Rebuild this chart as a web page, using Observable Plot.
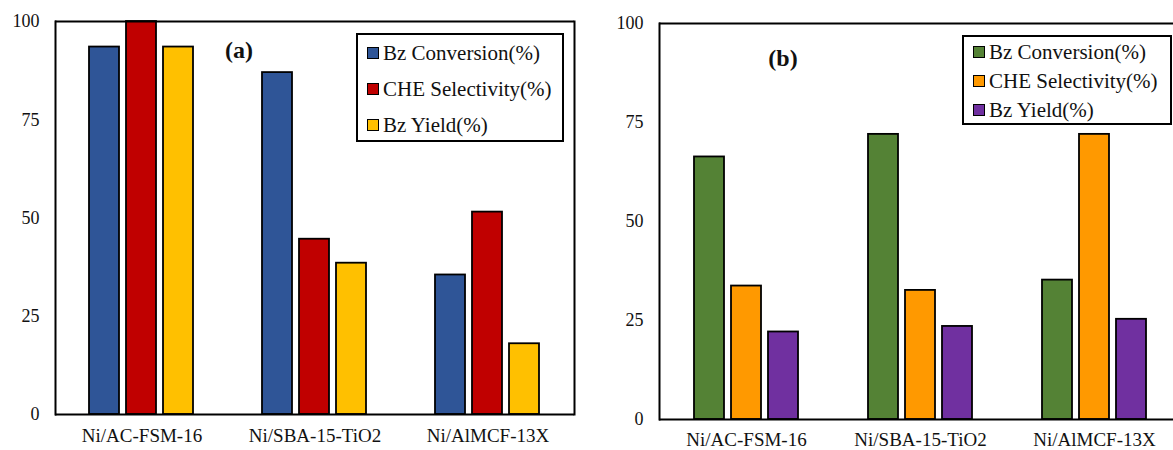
<!DOCTYPE html>
<html>
<head>
<meta charset="utf-8">
<script src="https://cdn.jsdelivr.net/npm/d3@7"></script>
<script src="https://cdn.jsdelivr.net/npm/@observablehq/plot@0.6"></script>
<style>
  html, body { margin: 0; padding: 0; background: #fff; overflow: hidden; width: 1173px; height: 450px; }
  #wrap { position: relative; width: 1173px; height: 450px; overflow: hidden; font-family: "Liberation Serif", "Times New Roman", serif; }
  .panel { position: absolute; top: 0; height: 450px; }
  .legend { position: absolute; border: 2px solid #000; background: #fff; box-sizing: border-box; font-family: "Liberation Serif", "Times New Roman", serif; font-size: 21px; color: #111; }
  .legend .row { position: absolute; display: flex; align-items: center; white-space: nowrap; }
  .legend .sw { width: 10px; height: 10px; border: 1.5px solid #000; margin-right: 4px; }
  .tag { position: absolute; font-family: "Liberation Serif", "Times New Roman", serif; font-weight: bold; font-size: 24px; color: #111; transform: translate(-50%, -50%); }
</style>
</head>
<body>
<div id="wrap">
  <div class="panel" id="pa" style="left:0;width:590px"></div>
  <div class="panel" id="pb" style="left:590px;width:600px"></div>
</div>
<script>
// ---- data ----
const catalysts = ["Ni/AC-FSM-16", "Ni/SBA-15-TiO2", "Ni/AlMCF-13X"];
const seriesNames = ["Bz Conversion(%)", "CHE Selectivity(%)", "Bz Yield(%)"];
const yTicks = [0, 25, 50, 75, 100];

// panel (a)
const aConversion = [93.5, 87.0, 35.5];
const aSelectivity = [100, 44.6, 51.5];
const aYield = [93.5, 38.5, 18.0];
const aColors = ["#2F5597", "#C00000", "#FFC000"];

// panel (b)
const bConversion = [66.3, 72.0, 35.2];
const bSelectivity = [33.7, 32.6, 72.0];
const bYield = [22.1, 23.5, 25.3];
const bColors = ["#548235", "#FF9900", "#7030A0"];

function toRows(...cols) {
  const rows = [];
  catalysts.forEach((c, i) => cols.forEach((col, k) => rows.push({catalyst: c, series: seriesNames[k], value: col[i]})));
  return rows;
}

function makePanel(rows, colors, o) {
  return Plot.plot({
    width: o.width, height: 450,
    marginLeft: o.ml, marginRight: o.mr, marginTop: o.mt, marginBottom: o.mb,
    style: {fontFamily: "'Liberation Serif', 'Times New Roman', serif", fontSize: "18px", color: "#111", background: "transparent", overflow: "visible"},
    fx: {domain: catalysts, padding: 0, label: null},
    x: {domain: seriesNames, paddingInner: 0.18, paddingOuter: 0.88, axis: null},
    y: {domain: [0, 100], label: null},
    color: {domain: seriesNames, range: colors},
    marks: [
      Plot.barY(rows, {fx: "catalyst", x: "series", y: "value", fill: "series", stroke: "#000", strokeWidth: 1.8}),
      Plot.ruleY([0, 100], {stroke: "#000", strokeWidth: 2}),
      Plot.frame({anchor: "left", facetAnchor: "left", stroke: "#000", strokeWidth: 2}),
      Plot.frame({anchor: "right", facetAnchor: "right", stroke: "#000", strokeWidth: 2}),
      Plot.axisY({ticks: yTicks, tickSize: 0, tickPadding: 16, fontSize: 18, label: null, tickFormat: d => String(d)}),
      Plot.axisFx({anchor: "bottom", tickSize: 0, tickPadding: o.fxPad, fontSize: 19, label: null})
    ]
  });
}

function makeLegend(parent, colors, box) {
  const lg = document.createElement("div");
  lg.className = "legend";
  Object.assign(lg.style, {left: box.x + "px", top: box.y + "px", width: box.w + "px", height: box.h + "px"});
  seriesNames.forEach((s, i) => {
    const r = document.createElement("div");
    r.className = "row";
    r.style.left = box.swx + "px";
    r.style.top = (box.r0 + i * box.dr - 13) + "px";
    r.style.height = "26px";
    const sw = document.createElement("div");
    sw.className = "sw";
    sw.style.background = colors[i];
    const t = document.createElement("span");
    t.textContent = s;
    r.appendChild(sw); r.appendChild(t);
    lg.appendChild(r);
  });
  parent.appendChild(lg);
}

function makeTag(parent, text, x, y) {
  const t = document.createElement("div");
  t.className = "tag";
  t.textContent = text;
  t.style.left = x + "px"; t.style.top = y + "px";
  parent.appendChild(t);
}

const pa = document.getElementById("pa");
const pb = document.getElementById("pb");
pa.appendChild(makePanel(toRows(aConversion, aSelectivity, aYield), aColors, {width: 590, ml: 54, mr: 15, mt: 21, mb: 36, fxPad: 14}));
pb.appendChild(makePanel(toRows(bConversion, bSelectivity, bYield), bColors, {width: 600, ml: 69, mr: 9, mt: 23, mb: 31, fxPad: 13}));

makeLegend(pa, aColors, {x: 356, y: 33, w: 208, h: 109, swx: 9, r0: 18, dr: 36});
makeLegend(pb, bColors, {x: 372, y: 35, w: 210, h: 90, swx: 9, r0: 15, dr: 29});
makeTag(pa, "(a)", 239, 50);
makeTag(pb, "(b)", 193, 58);
</script>
</body>
</html>
